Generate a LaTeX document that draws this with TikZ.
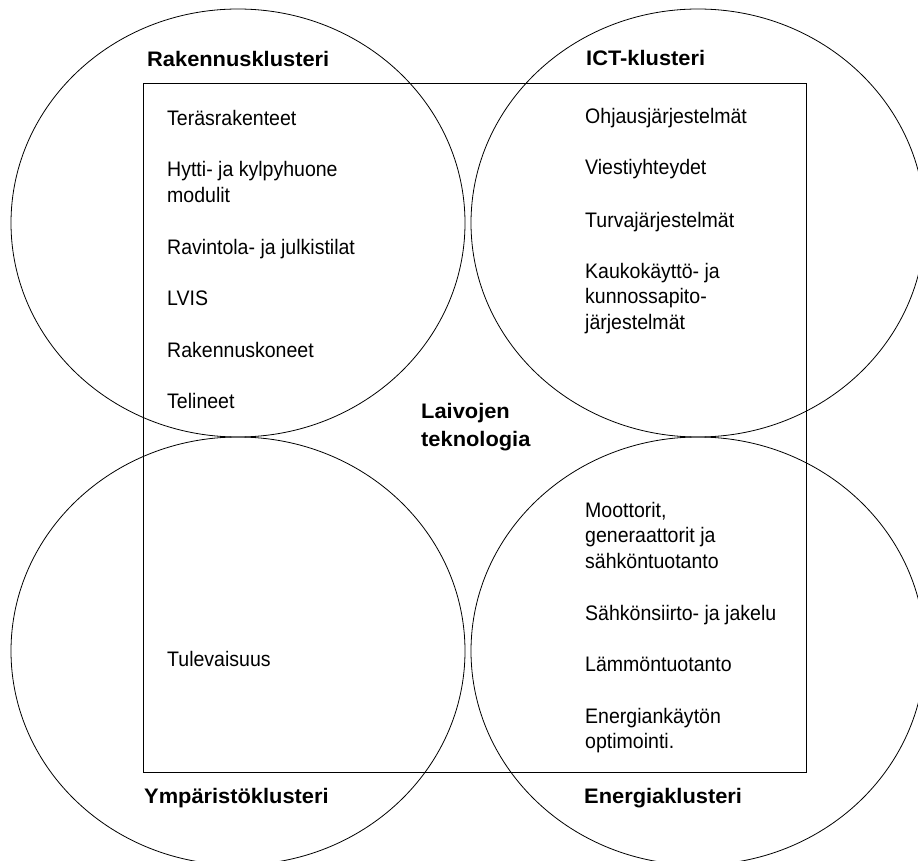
\documentclass[tikz,border=0pt]{standalone}
\usepackage{fontspec}
\setmainfont{Liberation Sans}
\newfontfamily\itemfont[FakeStretch=0.93]{Liberation Sans}
\newfontfamily\headfont[FakeStretch=1.04]{Liberation Sans Bold}
\usetikzlibrary{shapes.geometric}
% stacked lines whose baseline is that of the first line
\newcommand{\stackedlines}[1]{\begin{tabular}[t]{@{}l@{}}#1\end{tabular}}
\begin{document}
\begin{tikzpicture}[x=1pt,y=-1pt,
  cluster/.style={draw, line width=0.8pt, ellipse, inner sep=0pt,
    minimum width=454pt, minimum height=428pt},
  frame/.style={draw, line width=0.9pt},
  entry/.style={anchor=base west, inner sep=0pt,
    font=\itemfont\fontsize{21}{25.5}\selectfont},
  head/.style={anchor=base west, inner sep=0pt,
    font=\headfont\fontsize{21}{28}\selectfont}]
\useasboundingbox (0,0) rectangle (918,861);
\begin{scope}
\clip (0,0) rectangle (918,861);
% four cluster circles
\node[cluster] (rak) at (238,223) {};
\node[cluster] (ict) at (698,223) {};
\node[cluster] (ymp) at (238,651) {};
\node[cluster] (ene) at (698,651) {};
% central technology frame
\draw[frame] (143,83) rectangle (806,772);
\end{scope}

% cluster headings
\node[head] (hrak) at (147,67) {Rakennusklusteri};
\node[head] (hict) at (586,66) {ICT-klusteri};
\node[head] (hymp) at (144,803) {Ympäristöklusteri};
\node[head] (hene) at (584,803) {Energiaklusteri};
\node[head] (core) at (421,418) {\stackedlines{Laivojen\\teknologia}};

% construction cluster
\node[entry] (r1) at (167,126) {Teräsrakenteet};
\node[entry] (r2) at (167,177) {\stackedlines{Hytti- ja kylpyhuone\\modulit}};
\node[entry] (r3) at (167,254) {Ravintola- ja julkistilat};
\node[entry] (r4) at (167,305) {LVIS};
\node[entry] (r5) at (167,357) {Rakennuskoneet};
\node[entry] (r6) at (167,408) {Telineet};

% ICT cluster
\node[entry] (i1) at (585,124) {Ohjausjärjestelmät};
\node[entry] (i2) at (585,175) {Viestiyhteydet};
\node[entry] (i3) at (585,227) {Turvajärjestelmät};
\node[entry] (i4) at (585,278) {\stackedlines{Kaukokäyttö- ja\\kunnossapito-\\järjestelmät}};

% environment cluster
\node[entry] (y1) at (167,666) {Tulevaisuus};

% energy cluster
\node[entry] (e1) at (585,517) {\stackedlines{Moottorit,\\generaattorit ja\\sähköntuotanto}};
\node[entry] (e2) at (585,620) {Sähkönsiirto- ja jakelu};
\node[entry] (e3) at (585,671) {Lämmöntuotanto};
\node[entry] (e4) at (585,723) {\stackedlines{Energiankäytön\\optimointi.}};
\end{tikzpicture}
\end{document}
